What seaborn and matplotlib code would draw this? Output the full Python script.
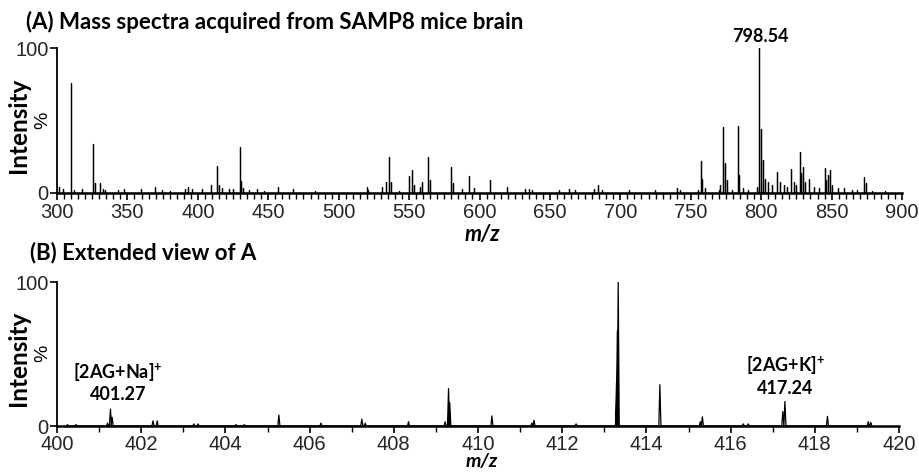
import numpy as np
import pandas as pd
import matplotlib
matplotlib.use("Agg")
import matplotlib.pyplot as plt
from matplotlib.ticker import MultipleLocator
import seaborn as sns

# ---- data: panel A (m/z, relative intensity %) ----
mz_a = [301.4, 304.5, 309.7, 310.1, 312.3, 317.5, 325.8, 327.0, 330.6, 332.4, 334.0,
        343.5, 347.8, 359.6, 369.5, 374.3, 380.0, 391.0, 393.3, 395.7, 402.8, 409.5,
        413.8, 414.7, 417.0, 421.8, 425.3, 429.6, 430.7, 432.4, 436.0, 441.9, 447.3,
        457.2, 467.8, 483.3, 520.0, 521.0, 530.6, 533.4, 535.8, 537.0, 542.7, 549.8,
        552.2, 553.4, 558.0, 559.3, 563.6, 565.2, 579.8, 581.2, 587.6, 592.5, 596.4,
        607.5, 619.4, 632.4, 634.8, 637.2, 656.1, 663.2, 668.0, 681.0, 684.1, 686.9,
        705.8, 724.8, 740.2, 742.6, 755.0, 757.3, 757.9, 760.4, 769.9, 771.0, 772.9,
        774.0, 775.7, 779.3, 783.2, 784.4, 787.4, 791.0, 796.9, 798.54, 799.6, 801.2,
        802.8, 805.2, 807.6, 811.2, 813.5, 815.9, 818.3, 821.4, 823.0, 824.7, 827.3,
        828.2, 829.4, 831.3, 834.1, 837.2, 840.8, 845.0, 846.0, 847.4, 849.1, 850.3,
        854.5, 858.5, 864.4, 868.0, 872.7, 874.4, 878.7, 888.1]
int_a = [3.9, 2.5, 76, 13.5, 2, 3, 34, 7, 6.7, 2.5, 2,
         2, 2.5, 2.5, 4, 2, 1.5, 2.5, 4, 2.5, 2.5, 5.3,
         18.6, 5.5, 3.7, 2.5, 2.5, 32, 8.3, 3.7, 2, 2.5, 1.6,
         4.4, 2.5, 1.6, 4.4, 2, 3.9, 7.8, 24.5, 7.8, 1.6, 11.7,
         15.9, 5.5, 4.4, 7.8, 24.5, 9, 17.7, 6.7, 2.5, 11.5, 3.2,
         9, 4.4, 2.5, 2.5, 2, 2, 2.5, 2, 2.5, 5.5, 2,
         2, 2, 3.2, 2, 2, 22, 10, 3.2, 2, 5.5, 45.5,
         20.5, 9, 2, 46, 12.4, 3.2, 2, 4.4, 100, 44, 22.8,
         10, 7.8, 5.5, 14.7, 7.8, 5.5, 4.4, 16.3, 7.8, 5.5, 28,
         13.5, 18, 7.8, 10, 4.4, 3.2, 17, 9, 12.4, 15.9, 5.5,
         3.2, 3.2, 2, 2, 10.8, 6.7, 1.6, 1.6]

# ---- data: panel B ----
mz_b = [400.25, 400.45, 401.20, 401.27, 401.31, 402.28, 402.38, 403.25, 403.35,
        404.25, 404.45, 405.27, 406.27, 407.24, 407.32, 408.35, 409.22, 409.30,
        409.33, 410.33, 411.28, 411.33, 412.33, 413.29, 413.31, 413.33, 414.32,
        415.28, 415.33, 416.30, 416.42, 417.24, 417.29, 418.30, 419.27, 419.33]
int_b = [1, 1, 2, 11.7, 6, 3.6, 3.6, 1.5, 1.5,
         1, 1, 7.6, 2, 4.8, 2, 3, 3, 26,
         16, 7, 2, 4, 1.5, 30, 66, 100, 28.7,
         3, 6.4, 1.5, 1.5, 10, 17, 6.7, 3, 2.5]

xticks_a = [300, 350, 400, 450, 500, 550, 600, 650, 700, 750, 800, 850, 900]
xticks_b = [400, 402, 404, 406, 408, 410, 412, 414, 416, 418, 420]
yticks = [0, 100]

sns.set_theme(style="ticks")
plt.rcParams["font.family"] = ["Liberation Sans", "DejaVu Sans"]
plt.rcParams["mathtext.fontset"] = "custom"
plt.rcParams["mathtext.rm"] = "Lato:bold"
plt.rcParams["mathtext.bf"] = "Lato:bold"

W, H = 919, 472
fig = plt.figure(figsize=(W / 100, H / 100), dpi=100)


def px(x, y):
    return x / W, 1 - y / H


def stick_frame(mz, inten, half_width):
    rows = []
    for m, h in zip(mz, inten):
        rows.append((m - half_width, 0.0))
        rows.append((m, h))
        rows.append((m + half_width, 0.0))
    return pd.DataFrame(rows, columns=["mz", "intensity"])


ax1 = fig.add_axes([57 / W, 1 - 193 / H, (902 - 57) / W, (193 - 48) / H])
ax2 = fig.add_axes([57 / W, 1 - 426 / H, (899 - 57) / W, (426 - 282) / H])

df_a = stick_frame(mz_a, int_a, 0.0)
df_b = stick_frame(mz_b, int_b, 0.025)
sns.lineplot(data=df_a, x="mz", y="intensity", ax=ax1, sort=False, estimator=None,
             color="black", lw=0.9)
sns.lineplot(data=df_b, x="mz", y="intensity", ax=ax2, sort=False, estimator=None,
             color="black", lw=0.9)

for ax, xt, (x0, x1), minor in ((ax1, xticks_a, (300, 900), 5),
                                 (ax2, xticks_b, (400, 420), 1)):
    ax.set_xlim(x0, x1)
    ax.set_ylim(0, 100)
    ax.set_xticks(xt)
    ax.set_xticklabels([str(v) for v in xt])
    ax.xaxis.set_minor_locator(MultipleLocator(minor))
    ax.set_yticks(yticks)
    ax.set_yticklabels([str(v) for v in yticks])
    ax.tick_params(axis="both", which="major", labelsize=14.5, length=5, width=1.2,
                   color="black")
    ax.tick_params(axis="x", which="major", pad=2.5 if ax is ax1 else 1.5)
    ax.tick_params(axis="y", which="major", pad=1)
    ax.tick_params(axis="x", which="minor", length=4, width=1, color="black")
    for s in ("top", "right"):
        ax.spines[s].set_visible(False)
    ax.spines["left"].set_linewidth(1.3)
    ax.spines["bottom"].set_linewidth(1.8)
    ax.spines["left"].set_color("black")
    ax.spines["bottom"].set_color("black")
    ax.set_xlabel("")
    ax.set_ylabel("")
    ax.set_facecolor("white")

# texts
bold = dict(family=["Lato", "DejaVu Sans"], fontweight="bold", color="black")
fig.text(*px(26, 22), "(A) Mass spectra acquired from SAMP8 mice brain",
         fontsize=16, ha="left", va="center", **bold)
fig.text(*px(30, 253), "(B) Extended view of A",
         fontsize=16, ha="left", va="center", **bold)

for yc in (125, 358):
    fig.text(*px(19, yc), "Intensity", rotation=90, fontsize=17.5,
             ha="center", va="center", **bold)
for yc in (120, 353):
    fig.text(*px(43, yc), "%", rotation=90, fontsize=14, ha="center", va="center",
             family=["Liberation Sans"], color="black")

fig.text(*px(482, 224), "m/z", fontsize=15.5, ha="center", va="top",
         style="italic", **bold)
fig.text(*px(482, 453), "m/z", fontsize=14, ha="center", va="top",
         style="italic", **bold)

fig.text(*px(760, 37), "798.54", fontsize=13, ha="center", va="center", **bold)
fig.text(*px(118, 373), "[2AG+Na]$^{+}$", fontsize=13, ha="center", va="center", **bold)
fig.text(*px(118, 394), "401.27", fontsize=13, ha="center", va="center", **bold)
fig.text(*px(785, 366), "[2AG+K]$^{+}$", fontsize=13, ha="center", va="center", **bold)
fig.text(*px(785, 388), "417.24", fontsize=13, ha="center", va="center", **bold)

fig.savefig("out.png", dpi=100, facecolor="white")
